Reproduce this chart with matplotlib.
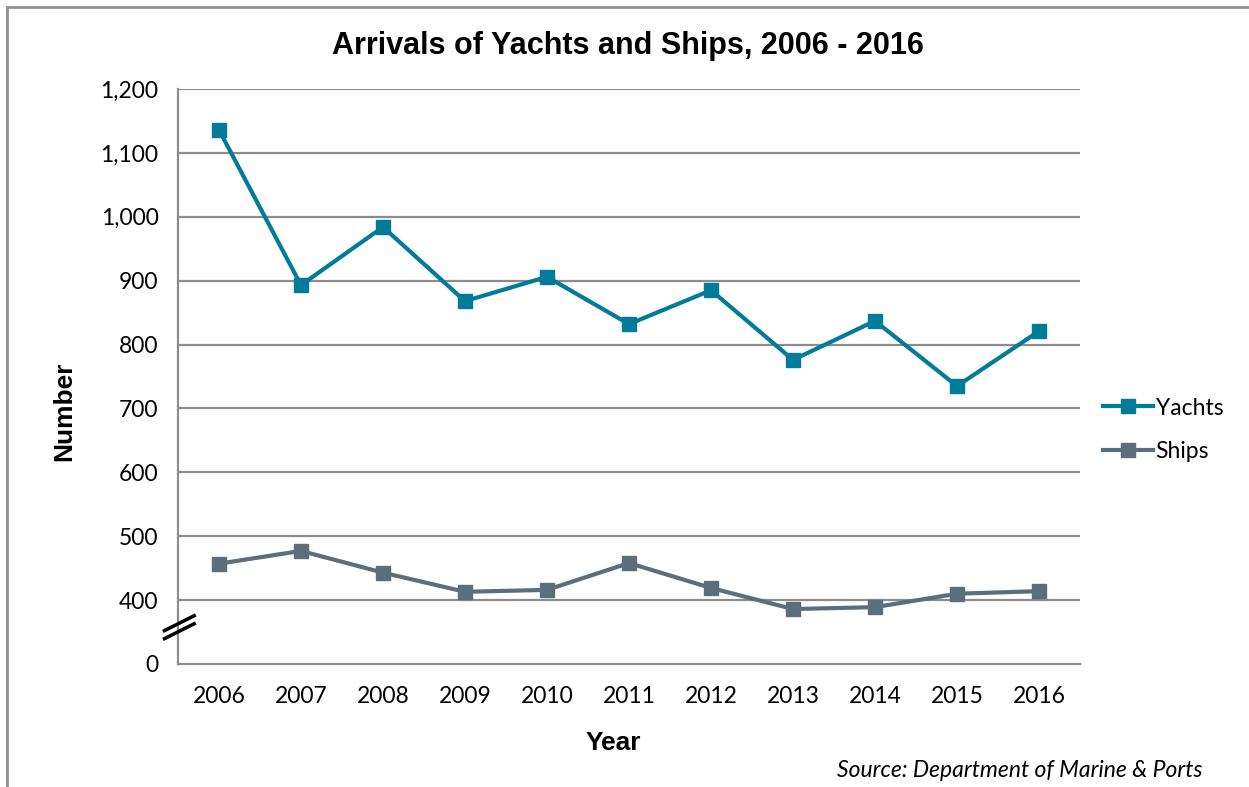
import matplotlib
matplotlib.use("Agg")
import matplotlib.pyplot as plt

years = ["2006", "2007", "2008", "2009", "2010", "2011", "2012", "2013", "2014", "2015", "2016"]
yachts = [1136, 893, 984, 868, 906, 832, 885, 776, 837, 735, 821]
ships = [457, 477, 443, 413, 416, 458, 419, 386, 389, 410, 414]
ytick_vals = [300, 400, 500, 600, 700, 800, 900, 1000, 1100, 1200]
ytick_labels = ["0", "400", "500", "600", "700", "800", "900", "1,000", "1,100", "1,200"]

plt.rcParams['font.family'] = ['Lato', 'DejaVu Sans']
bold_font = ['Liberation Sans', 'DejaVu Sans']

fig = plt.figure(figsize=(12.49, 7.87), dpi=100)
ax = fig.add_axes([0.1425, 0.1563, 0.7222, 0.7306])

x = list(range(len(years)))
ax.plot(x, yachts, color='#007C99', lw=3, marker='s', markersize=10, label="Yachts", zorder=3)
ax.plot(x, ships, color='#5B6E7A', lw=3, marker='s', markersize=10, label="Ships", zorder=3)

ax.set_xlim(-0.5, len(years) - 0.5)
ax.set_ylim(300, 1200)
ax.set_xticks(x)
ax.set_xticklabels(years)
ax.set_yticks(ytick_vals)
ax.set_yticklabels(ytick_labels)
ax.tick_params(axis='both', length=0, labelsize=16.5)
ax.tick_params(axis='y', pad=14)
ax.tick_params(axis='x', pad=16)

for v in ytick_vals[1:]:
    ax.axhline(v, color='#8C8C8C', lw=1.6, zorder=1)

for s in ['top', 'right']:
    ax.spines[s].set_visible(False)
for s in ['left', 'bottom']:
    ax.spines[s].set_color('#8C8C8C')
    ax.spines[s].set_linewidth(1.6)

# axis break marks
for off in [0.0, -0.014]:
    ax.plot([-0.015, 0.018], [0.058 + off, 0.084 + off], transform=ax.transAxes,
            color='black', lw=2.5, clip_on=False, zorder=5)

ax.set_xlabel("Year", fontsize=19, family=bold_font, fontweight='bold')
ax.xaxis.set_label_coords(0.483, -0.116)
ax.set_ylabel("Number", fontsize=19, family=bold_font, fontweight='bold')
ax.yaxis.set_label_coords(-0.113, 0.44)

fig.text(0.503, 0.941, "Arrivals of Yachts and Ships, 2006 - 2016", ha='center', va='center',
         fontsize=22, family=bold_font, fontweight='bold')
fig.text(0.963, 0.021, "Source: Department of Marine & Ports", ha='right', va='center',
         fontsize=16.5, style='italic')

leg = ax.legend(loc='center left', bbox_to_anchor=(1.0, 0.407), frameon=False, fontsize=16.5,
                handlelength=2.2, handletextpad=0.1, labelspacing=1.0, borderaxespad=0.6)

# outer frame
fig.add_artist(plt.Line2D([0.0058, 0.0058], [0.0, 0.991], color='#909090', lw=2))
fig.add_artist(plt.Line2D([0.0058, 1.0], [0.991, 0.991], color='#909090', lw=2))

fig.savefig("out.png", dpi=100)
